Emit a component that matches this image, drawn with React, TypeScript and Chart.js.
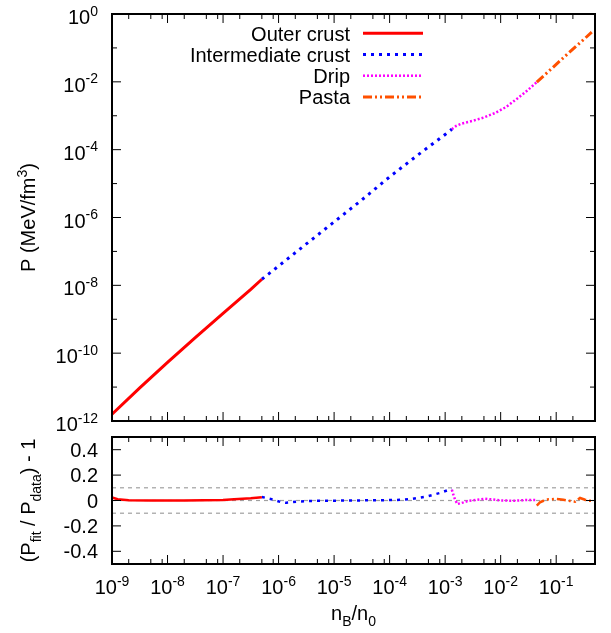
import { useEffect, useRef } from "react";
import { Chart, registerables } from "chart.js";

Chart.register(...registerables);

const FONT = "'Liberation Sans', Arial, Helvetica, sans-serif";

// ---------- axes ----------
const xRange = [1e-9, 0.5];
const xMajorExponents = [-9, -8, -7, -6, -5, -4, -3, -2, -1];
const xMinorFactors = [2, 5, 8];
const pRange = [1e-12, 1];
const pLabelExponents = [0, -2, -4, -6, -8, -10, -12];
const pMinorExponents = [-1, -3, -5, -7, -9, -11];
const resRange = [-0.5, 0.5];
const resTickValues = [-0.4, -0.2, 0, 0.2, 0.4];
const resTickLabels = ["-0.4", "-0.2", "0", "0.2", "0.4"];
const resGuideValues = [-0.1, 0, 0.1];

const seriesLabels = ["Outer crust", "Intermediate crust", "Drip", "Pasta"];

// ---------- top panel: P(n_B) ----------
const outerN = [1e-9, 3.16e-9, 1e-8, 3.16e-8, 1e-7, 3.16e-7, 5e-7];
const outerP = [1.58e-12, 9.5e-12, 5.37e-11, 2.88e-10, 1.48e-9, 7.6e-9, 1.51e-8];

const interN = [5e-7, 1e-6, 3.16e-6, 1e-5, 3.16e-5, 1e-4, 3.16e-4, 1e-3, 1.32e-3];
const interP = [1.51e-8, 3.7e-8, 1.66e-7, 7.4e-7, 3.3e-6, 1.58e-5, 6.8e-5, 2.8e-4, 4.0e-4];

const dripN = [1.32e-3, 1.58e-3, 2e-3, 3.16e-3, 5e-3, 7.9e-3, 1.26e-2, 2e-2, 3.16e-2, 4.47e-2];
const dripP = [4.0e-4, 5.0e-4, 5.9e-4, 7.1e-4, 8.9e-4, 1.2e-3, 1.82e-3, 3.24e-3, 5.9e-3, 9.8e-3];

const pastaN = [4.47e-2, 7.9e-2, 0.158, 0.316, 0.437];
const pastaP = [9.8e-3, 2.3e-2, 6.5e-2, 0.18, 0.29];

// ---------- bottom panel: residuals ----------
const outerResN = [1e-9, 1.26e-9, 2e-9, 5e-9, 2e-8, 1e-7, 1.58e-7, 3.16e-7, 5e-7];
const outerResR = [0.025, 0.01, 0.002, 0.0, 0.0, 0.004, 0.009, 0.017, 0.025];

const interResN = [5e-7, 7.9e-7, 1.1e-6, 1.38e-6, 2.1e-6, 4e-6, 2e-5, 1e-4, 1.55e-4, 2.5e-4, 3.4e-4, 4.7e-4, 6.2e-4, 8.3e-4, 1.15e-3, 1.32e-3];
const interResR = [0.028, 0.008, -0.013, -0.018, -0.01, -0.003, 0.0, 0.003, 0.005, 0.012, 0.022, 0.032, 0.046, 0.061, 0.083, 0.09];

const dripResN = [1.32e-3, 1.41e-3, 1.51e-3, 1.66e-3, 2.14e-3, 2.63e-3, 3.72e-3, 5.25e-3, 6.9e-3, 9.8e-3, 1.7e-2, 2.95e-2, 4.47e-2];
const dripResR = [0.085, 0.045, 0.006, -0.028, -0.015, -0.002, 0.006, 0.014, 0.009, 0.001, -0.002, 0.004, 0.004];

const pastaResN = [4.47e-2, 5.1e-2, 5.9e-2, 7.2e-2, 0.102, 0.135, 0.178, 0.219, 0.269, 0.331, 0.38, 0.437];
const pastaResR = [-0.04, -0.015, -0.002, 0.009, 0.012, 0.006, -0.004, -0.009, 0.02, 0.006, -0.002, -0.003];

// ---------- styles ----------
const seriesStyles = [
  { color: "#ff0000", dash: [] as number[], width: 3 },
  { color: "#0000ff", dash: [3, 5], width: 3 },
  { color: "#ff00ff", dash: [2, 2], width: 2.5 },
  { color: "#ff5000", dash: [9, 3, 2, 3, 2, 3], width: 3 },
];

type Seg = { t: string; size: number; dy: number };

function segWidth(ctx: CanvasRenderingContext2D, segs: Seg[]) {
  let w = 0;
  for (const s of segs) {
    ctx.font = `${s.size}px ${FONT}`;
    w += ctx.measureText(s.t).width;
  }
  return w;
}

function drawRich(ctx: CanvasRenderingContext2D, segs: Seg[], x: number, y: number, align: "left" | "center" | "right") {
  const w = segWidth(ctx, segs);
  let cx = align === "center" ? x - w / 2 : align === "right" ? x - w : x;
  ctx.textAlign = "left";
  ctx.textBaseline = "alphabetic";
  for (const s of segs) {
    ctx.font = `${s.size}px ${FONT}`;
    ctx.fillText(s.t, cx, y + s.dy);
    cx += ctx.measureText(s.t).width;
  }
}

function drawRotated(ctx: CanvasRenderingContext2D, segs: Seg[], x: number, y: number) {
  ctx.save();
  ctx.translate(x, y);
  ctx.rotate(-Math.PI / 2);
  drawRich(ctx, segs, 0, 0, "center");
  ctx.restore();
}

const powSegs = (e: number): Seg[] => [
  { t: "10", size: 20, dy: 0 },
  { t: String(e), size: 14, dy: -8.5 },
];

function line(ctx: CanvasRenderingContext2D, x1: number, y1: number, x2: number, y2: number) {
  ctx.beginPath();
  ctx.moveTo(x1, y1);
  ctx.lineTo(x2, y2);
  ctx.stroke();
}

function drawXTicks(ctx: CanvasRenderingContext2D, chart: any) {
  const a = chart.chartArea;
  const xs = chart.scales.x;
  const vt = (v: number, len: number) => {
    const px = xs.getPixelForValue(v);
    line(ctx, px, a.bottom, px, a.bottom - len);
    line(ctx, px, a.top, px, a.top + len);
  };
  for (const e of xMajorExponents) {
    vt(Math.pow(10, e), 9);
    for (const f of xMinorFactors) {
      const v = f * Math.pow(10, e);
      if (v < xRange[1]) vt(v, 5);
    }
  }
}

const topPlugin = {
  id: "topDecor",
  afterDraw(chart: any) {
    const ctx: CanvasRenderingContext2D = chart.ctx;
    const a = chart.chartArea;
    const ys = chart.scales.y;
    ctx.save();
    ctx.strokeStyle = "#000";
    ctx.fillStyle = "#000";
    ctx.lineWidth = 1;
    drawXTicks(ctx, chart);
    const ht = (py: number, len: number) => {
      line(ctx, a.left, py, a.left + len, py);
      line(ctx, a.right, py, a.right - len, py);
    };
    for (const e of pLabelExponents) ht(ys.getPixelForValue(Math.pow(10, e)), 9);
    for (const e of pMinorExponents) ht(ys.getPixelForValue(Math.pow(10, e)), 5);
    ctx.lineWidth = 2;
    ctx.strokeRect(a.left, a.top, a.right - a.left, a.bottom - a.top);
    for (const e of pLabelExponents) {
      const py = ys.getPixelForValue(Math.pow(10, e));
      drawRich(ctx, powSegs(e), 98, py + 10, "right");
    }
    drawRotated(
      ctx,
      [
        { t: "P (MeV/fm", size: 20, dy: 0 },
        { t: "3", size: 14, dy: -8.5 },
        { t: ")", size: 20, dy: 0 },
      ],
      35,
      (a.top + a.bottom) / 2
    );
    // legend
    seriesLabels.forEach((lab, i) => {
      const st = seriesStyles[i];
      const ry = 33.3 + i * 21.2;
      ctx.fillStyle = "#000";
      drawRich(ctx, [{ t: lab, size: 20, dy: 0 }], 350, ry + 7.2, "right");
      ctx.save();
      ctx.strokeStyle = st.color;
      ctx.lineWidth = st.width;
      ctx.setLineDash(st.dash);
      line(ctx, 363, ry, 423, ry);
      ctx.restore();
    });
    ctx.restore();
  },
};

const TOP_OFFSET = 430;

const bottomPlugin = {
  id: "bottomDecor",
  afterDraw(chart: any) {
    const ctx: CanvasRenderingContext2D = chart.ctx;
    const a = chart.chartArea;
    const xs = chart.scales.x;
    const ys = chart.scales.y;
    ctx.save();
    ctx.strokeStyle = "#000";
    ctx.fillStyle = "#000";
    ctx.lineWidth = 1;
    drawXTicks(ctx, chart);
    for (const v of resTickValues) {
      const py = ys.getPixelForValue(v);
      line(ctx, a.left, py, a.left + 9, py);
      line(ctx, a.right, py, a.right - 9, py);
    }
    ctx.lineWidth = 2;
    ctx.strokeRect(a.left, a.top, a.right - a.left, a.bottom - a.top);
    resTickValues.forEach((v, i) => {
      const py = ys.getPixelForValue(v);
      drawRich(ctx, [{ t: resTickLabels[i], size: 20, dy: 0 }], 98, py + 7, "right");
    });
    for (const e of xMajorExponents) {
      const px = xs.getPixelForValue(Math.pow(10, e));
      drawRich(ctx, powSegs(e), px, 594 - TOP_OFFSET, "center");
    }
    drawRich(
      ctx,
      [
        { t: "n", size: 20, dy: 0 },
        { t: "B", size: 14, dy: 6 },
        { t: "/n", size: 20, dy: 0 },
        { t: "0", size: 14, dy: 6 },
      ],
      (a.left + a.right) / 2,
      620 - TOP_OFFSET,
      "center"
    );
    drawRotated(
      ctx,
      [
        { t: "(P", size: 20, dy: 0 },
        { t: "fit", size: 14, dy: 6 },
        { t: " / P", size: 20, dy: 0 },
        { t: "data", size: 14, dy: 6 },
        { t: ") - 1", size: 20, dy: 0 },
      ],
      35,
      (a.top + a.bottom) / 2
    );
    ctx.restore();
  },
};

const toPts = (xs: number[], ys: number[]) => xs.map((x, i) => ({ x, y: ys[i] }));

function makeDataset(i: number, xs: number[], ys: number[], width?: number) {
  const st = seriesStyles[i];
  return {
    label: seriesLabels[i],
    data: toPts(xs, ys),
    showLine: true,
    borderColor: st.color,
    backgroundColor: st.color,
    borderWidth: width ?? st.width,
    borderDash: st.dash,
    borderCapStyle: "butt" as const,
    pointRadius: 0,
    tension: 0,
    order: 1,
  };
}

export default function App() {
  const topRef = useRef<HTMLCanvasElement>(null);
  const botRef = useRef<HTMLCanvasElement>(null);

  useEffect(() => {
    const common = {
      animation: false as const,
      responsive: false,
      maintainAspectRatio: false,
      devicePixelRatio: 1,
      events: [] as any[],
      plugins: { legend: { display: false }, tooltip: { enabled: false } },
    };
    const top = new Chart(topRef.current!, {
      type: "scatter",
      data: {
        datasets: [
          makeDataset(0, outerN, outerP),
          makeDataset(1, interN, interP),
          makeDataset(2, dripN, dripP),
          makeDataset(3, pastaN, pastaP),
        ],
      },
      options: {
        ...common,
        layout: { padding: { left: 112, right: 16, top: 14, bottom: 19 } },
        scales: {
          x: { type: "logarithmic", min: xRange[0], max: xRange[1], display: false },
          y: { type: "logarithmic", min: pRange[0], max: pRange[1], display: false },
        },
      },
      plugins: [topPlugin],
    } as any);

    const guides = resGuideValues.map((v) => ({
      label: "guide",
      data: [
        { x: xRange[0], y: v },
        { x: xRange[1], y: v },
      ],
      showLine: true,
      borderColor: "#a0a0a0",
      borderWidth: 1.2,
      borderDash: [4, 4],
      pointRadius: 0,
      order: 10,
    }));

    const bot = new Chart(botRef.current!, {
      type: "scatter",
      data: {
        datasets: [
          makeDataset(0, outerResN, outerResR, 2.5),
          makeDataset(1, interResN, interResR, 2.5),
          makeDataset(2, dripResN, dripResR, 2.5),
          makeDataset(3, pastaResN, pastaResR, 2.5),
          ...guides,
        ],
      },
      options: {
        ...common,
        layout: { padding: { left: 112, right: 16, top: 7, bottom: 69 } },
        scales: {
          x: { type: "logarithmic", min: xRange[0], max: xRange[1], display: false },
          y: { type: "linear", min: resRange[0], max: resRange[1], display: false },
        },
      },
      plugins: [bottomPlugin],
    } as any);

    return () => {
      top.destroy();
      bot.destroy();
    };
  }, []);

  return (
    <div style={{ position: "fixed", left: 0, top: 0, width: 611, height: 633, background: "#fff" }}>
      <canvas
        ref={topRef}
        width={611}
        height={440}
        style={{ position: "absolute", left: 0, top: 0, width: 611, height: 440 }}
      />
      <canvas
        ref={botRef}
        width={611}
        height={203}
        style={{ position: "absolute", left: 0, top: TOP_OFFSET, width: 611, height: 203 }}
      />
    </div>
  );
}
